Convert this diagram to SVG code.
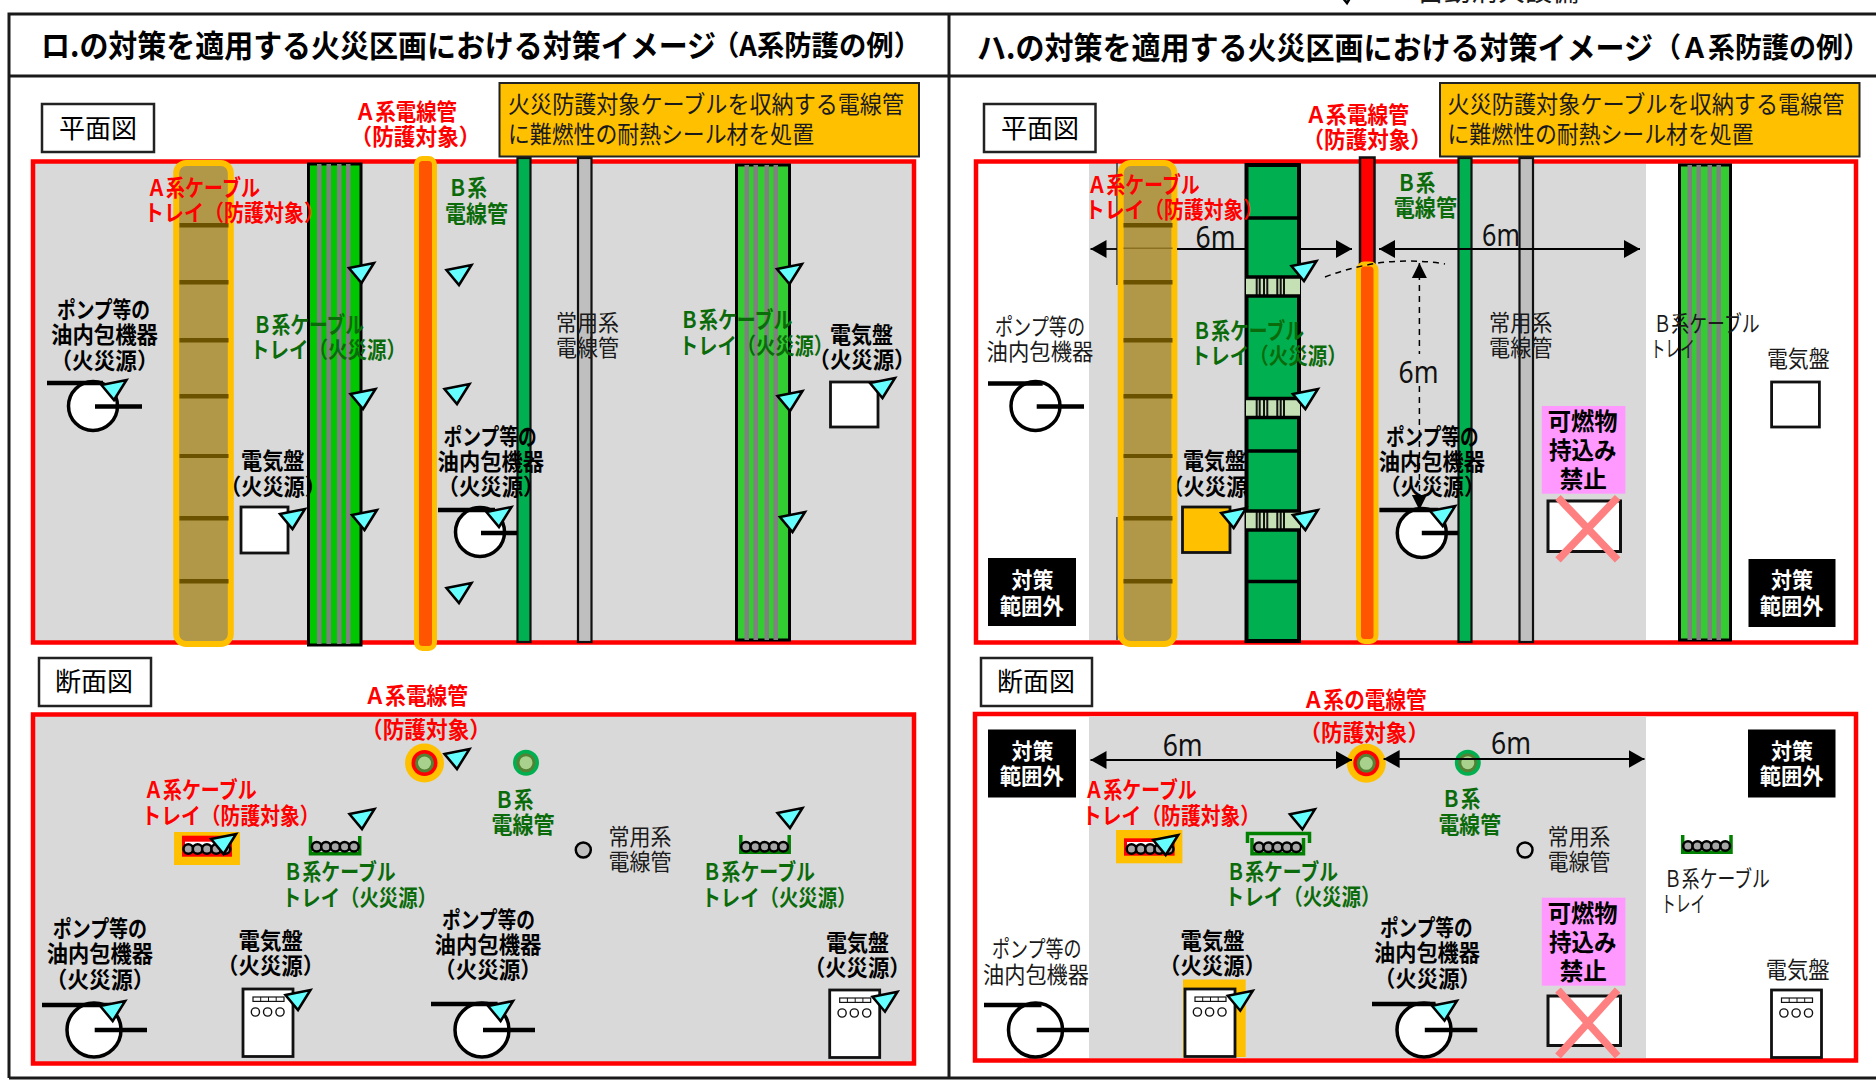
<svg xmlns="http://www.w3.org/2000/svg" width="1876" height="1082" viewBox="0 0 1876 1082">
<style>
text{font-family:"Noto Sans CJK JP","Noto Sans",sans-serif;font-size:22.5px;fill:#1a1a1a}
.b{font-weight:700}
.h{font-size:31px;font-weight:700;fill:#000}
.hp{font-size:28px;font-weight:700;fill:#000}
.red{fill:#ff0000;font-weight:700}
.grn{fill:#0b6b0b;font-weight:700}
.k{fill:#000;font-weight:700}
.w{fill:#fff;font-weight:700;font-size:22px}
.n{font-size:23.5px;fill:#1a1a1a}
.lab{font-size:26px;fill:#000;text-anchor:middle}
.dim{font-family:"Noto Sans",sans-serif;font-size:31px;fill:#111}
.mg{font-size:24px;font-weight:700;fill:#000}
.frame{stroke:#1a1a1a;stroke-width:3;fill:none}
.lbox{fill:#fff;stroke:#222;stroke-width:2.5}
.zone{fill:#d9d9d9;stroke:#ff0000;stroke-width:4.5}
.zonew{fill:#fff;stroke:#ff0000;stroke-width:4.5}
.grey{fill:#d9d9d9}
.note{fill:#ffc000;stroke:#222;stroke-width:2}
.atray{fill:#b19849;stroke:#ffc000;stroke-width:6}
.bar{fill:#6b5200}
.gstripe{fill:#808080}
.btray{fill:#00c800;stroke:#000;stroke-width:3}
.btray2{fill:#33cc33;stroke:#000;stroke-width:3}
.btray3{fill:#00b050;stroke:#000;stroke-width:4}
.sep{stroke:#000;stroke-width:3.5}
.acond{fill:#ff5500;stroke:#ffc000;stroke-width:5}
.bcond{fill:#00b050;stroke:#111;stroke-width:2.2}
.ncond{fill:#bfbfbf;stroke:#111;stroke-width:2.2}
.tri{fill:#66ffff;stroke:#000;stroke-width:2.5}
.circ{fill:#fff;stroke:#000;stroke-width:3.5}
.pl{stroke:#000;stroke-width:4.5;fill:none}
.pan{fill:#fff;stroke:#111;stroke-width:2.8}
.cab{fill:#a6a6a6;stroke:#000;stroke-width:2.5}
.ug{fill:none;stroke:#008000;stroke-width:3.5}
.dl{stroke:#000;stroke-width:1.8;fill:none}
.dash{stroke:#000;stroke-width:1.5;fill:none;stroke-dasharray:6 5}
.x{stroke:#ff8080;stroke-width:7.5}
</style>
<defs>
<marker id="ah" markerUnits="userSpaceOnUse" markerWidth="17" markerHeight="18" refX="16" refY="9" orient="auto-start-reverse"><path d="M0 0L16 9L0 18z" fill="#000"/></marker>
<marker id="ahs" markerUnits="userSpaceOnUse" markerWidth="16" markerHeight="16" refX="15" refY="8" orient="auto-start-reverse"><path d="M0 0.5L15 8L0 15.5z" fill="#000"/></marker>
<polygon id="t" class="tri" points="-12.5,-15 12.5,-20 0,0"/>
<g id="cables"><circle class="cab" cx="0" cy="0" r="4.8"/><circle class="cab" cx="9.3" cy="0" r="4.8"/><circle class="cab" cx="18.6" cy="0" r="4.8"/><circle class="cab" cx="27.9" cy="0" r="4.8"/><circle class="cab" cx="37.2" cy="0" r="4.8"/></g>
<g id="cabinet"><rect class="pan" x="0" y="0" width="50" height="67.5"/><rect x="10" y="8" width="31" height="4.4" fill="#fff" stroke="#111" stroke-width="1.2"/><path d="M17.7 8v4.4M25.5 8v4.4M33.2 8v4.4" stroke="#111" stroke-width="1"/><circle cx="12.4" cy="23" r="4.1" fill="#fff" stroke="#111" stroke-width="1.4"/><circle cx="24.6" cy="23" r="4.1" fill="#fff" stroke="#111" stroke-width="1.4"/><circle cx="37" cy="23" r="4.1" fill="#fff" stroke="#111" stroke-width="1.4"/></g>
<g id="bars"><rect class="bar" x="0" y="223" width="49" height="4.5"/><rect class="bar" x="0" y="280" width="49" height="4.5"/><rect class="bar" x="0" y="338" width="49" height="4.5"/><rect class="bar" x="0" y="394" width="49" height="4.5"/><rect class="bar" x="0" y="454" width="49" height="4"/><rect class="bar" x="0" y="516" width="49" height="4.5"/><rect class="bar" x="0" y="579" width="49" height="4.5"/></g>
<g id="band"><rect x="1" y="0" width="54" height="19" fill="#c5e0b4"/><path d="M11.7 0v19M14.7 0v19M19 0v19M22.3 0v19M32.3 0v19M35.7 0v19M39 0v19" stroke="#111" stroke-width="2"/><path d="M0 0H56M0 19H56" stroke="#000" stroke-width="3.5"/></g>
</defs>
<rect width="1876" height="1082" fill="#fff"/>

<g id="frame">
<path class="frame" d="M9 1078V14H1876M9 76H1876M949 14V1078M9 1078H1876"/>
</g>

<g id="top-legend">
<use href="#t" x="1347" y="3"/>
<text x="1390" y="1" style="font-size:27px" textLength="189" lengthAdjust="spacingAndGlyphs">：自動消火設備</text>
</g>

<g id="titles">
<text class="h" x="41" y="57" textLength="675" lengthAdjust="spacingAndGlyphs">ロ.の対策を適用する火災区画における対策イメージ</text>
<text class="hp" x="712" y="56" textLength="209" lengthAdjust="spacingAndGlyphs">（A系防護の例）</text>
<text class="h" x="977" y="59" textLength="676" lengthAdjust="spacingAndGlyphs">ハ.の対策を適用する火災区画における対策イメージ</text>
<text class="hp" x="1654" y="58" textLength="216" lengthAdjust="spacingAndGlyphs">（Ａ系防護の例）</text>
</g>

<!-- LEFT PLAN -->
<g id="left-plan">
<rect class="zone" x="33" y="161.5" width="881" height="481"/>
<rect class="btray" x="308.5" y="164" width="52.5" height="481"/>
<rect class="gstripe" x="317" y="164" width="4.5" height="480"/><rect class="gstripe" x="326.5" y="164" width="4.5" height="480"/><rect class="gstripe" x="337" y="164" width="4.5" height="480"/><rect class="gstripe" x="346" y="164" width="4.5" height="480"/>
<rect class="atray" x="176.2" y="163" width="54.6" height="481" rx="10"/>
<use href="#bars" x="179.5" y="0"/>
<rect class="acond" x="416.5" y="158.5" width="18" height="490" rx="6"/>
<rect class="bcond" x="517.5" y="158" width="13" height="484"/>
<rect class="ncond" x="578" y="158" width="13.5" height="484"/>
<rect class="btray2" x="736.5" y="165" width="53" height="475"/>
<rect class="gstripe" x="744.5" y="165" width="4.5" height="475"/><rect class="gstripe" x="753.5" y="165" width="4.5" height="475"/><rect class="gstripe" x="764.5" y="165" width="4.5" height="475"/><rect class="gstripe" x="773.5" y="165" width="4.5" height="475"/>
<rect class="note" x="499.5" y="83" width="419.5" height="73.5"/>
<rect class="lbox" x="42" y="104" width="112" height="48"/>
<circle class="circ" cx="93" cy="406" r="24.5"/><path class="pl" d="M47 383H103M95 406.5H142"/>
<circle class="circ" cx="480" cy="532" r="24.5"/><path class="pl" d="M438 510H495M481 533H517"/>
<rect class="pan" x="241" y="507" width="47" height="46"/>
<rect class="pan" x="830.5" y="382" width="47.5" height="45"/>
<use href="#t" x="361.5" y="283"/><use href="#t" x="459" y="285"/><use href="#t" x="363" y="409"/><use href="#t" x="457" y="404"/><use href="#t" x="364.5" y="530"/><use href="#t" x="459" y="603"/><use href="#t" x="789.5" y="284"/><use href="#t" x="790" y="411"/><use href="#t" x="792.5" y="532"/><use href="#t" x="882.5" y="398"/><use href="#t" x="292.5" y="529"/><use href="#t" x="114" y="400"/><use href="#t" x="499" y="527"/>
<text class="lab" x="98" y="138">平面図</text>
<text class="n" x="508" y="113" textLength="396" lengthAdjust="spacingAndGlyphs">火災防護対象ケーブルを収納する電線管</text>
<text class="n" x="508" y="142.7" textLength="306" lengthAdjust="spacingAndGlyphs">に難燃性の耐熱シール材を処置</text>
<text class="red" x="355" y="119.5" textLength="102" lengthAdjust="spacingAndGlyphs">Ａ系電線管</text>
<text class="red" x="350.5" y="145" textLength="130" lengthAdjust="spacingAndGlyphs">（防護対象）</text>
<text class="red" x="147" y="195.5" textLength="113" lengthAdjust="spacingAndGlyphs">Ａ系ケーブル</text>
<text class="red" x="144" y="221" textLength="180" lengthAdjust="spacingAndGlyphs">トレイ（防護対象）</text>
<text class="grn" x="448" y="195.5" textLength="39" lengthAdjust="spacingAndGlyphs">Ｂ系</text>
<text class="grn" x="445" y="221.5" textLength="63" lengthAdjust="spacingAndGlyphs">電線管</text>
<text class="grn" x="253" y="332.5" textLength="111" lengthAdjust="spacingAndGlyphs">Ｂ系ケーブル</text>
<text class="grn" x="250" y="357.5" textLength="156" lengthAdjust="spacingAndGlyphs">トレイ（火災源）</text>
<text x="556" y="330.5" textLength="63" lengthAdjust="spacingAndGlyphs">常用系</text>
<text x="556" y="356" textLength="63" lengthAdjust="spacingAndGlyphs">電線管</text>
<text class="grn" x="680" y="328" textLength="112.5" lengthAdjust="spacingAndGlyphs">Ｂ系ケーブル</text>
<text class="grn" x="679" y="353.5" textLength="154" lengthAdjust="spacingAndGlyphs">トレイ（火災源）</text>
<text class="k" x="830" y="342.5" textLength="63" lengthAdjust="spacingAndGlyphs">電気盤</text>
<text class="k" x="808.5" y="368" textLength="107" lengthAdjust="spacingAndGlyphs">（火災源）</text>
<text class="k" x="241" y="469" textLength="63.5" lengthAdjust="spacingAndGlyphs">電気盤</text>
<text class="k" x="220" y="494.5" textLength="106" lengthAdjust="spacingAndGlyphs">（火災源）</text>
<text class="k" x="443.6" y="444.5" textLength="93" lengthAdjust="spacingAndGlyphs">ポンプ等の</text>
<text class="k" x="437.6" y="469.5" textLength="106.5" lengthAdjust="spacingAndGlyphs">油内包機器</text>
<text class="k" x="437.5" y="494.5" textLength="107" lengthAdjust="spacingAndGlyphs">（火災源）</text>
<text class="k" x="57" y="317.5" textLength="93" lengthAdjust="spacingAndGlyphs">ポンプ等の</text>
<text class="k" x="51" y="343" textLength="107" lengthAdjust="spacingAndGlyphs">油内包機器</text>
<text class="k" x="50.5" y="368.5" textLength="108" lengthAdjust="spacingAndGlyphs">（火災源）</text>
</g>

<!-- LEFT SECTION -->
<g id="left-section">
<rect class="zone" x="33" y="714.5" width="881" height="349"/>
<rect class="lbox" x="39" y="658" width="112" height="48"/>
<text class="lab" x="94" y="691">断面図</text>
<circle cx="424.5" cy="763" r="19.5" fill="#ffc000"/><circle cx="424.5" cy="763" r="13" fill="#ff0000"/><circle cx="424.5" cy="763" r="9.5" fill="#548235"/><circle cx="424.5" cy="763" r="6.5" fill="#a9d18e"/>
<circle cx="526" cy="762.7" r="13" fill="#00b050"/><circle cx="526" cy="762.7" r="9.5" fill="#548235"/><circle cx="526" cy="762.7" r="6.5" fill="#a9d18e"/>
<rect x="174" y="832" width="66" height="33" fill="#ffc000"/><rect x="182" y="835.7" width="50" height="21" fill="#ff0000"/><rect x="185" y="841.7" width="44" height="3.5" fill="#fff"/>
<use href="#cables" x="188.3" y="849"/>
<path class="ug" d="M310.5 836V853.7H359.7V836"/><use href="#cables" x="316.7" y="846.7"/>
<path class="ug" d="M740.8 835V852.2H789.2V835"/><use href="#cables" x="746" y="846.7"/>
<circle cx="583.3" cy="850" r="7.5" fill="#bfbfbf" stroke="#000" stroke-width="2.5"/>
<circle class="circ" cx="94" cy="1030" r="27"/><path class="pl" d="M42 1005H111M94.7 1030H147"/>
<circle class="circ" cx="482" cy="1030" r="27"/><path class="pl" d="M431 1004H497.6M483 1030H535"/>
<use href="#cabinet" x="243" y="989"/><use href="#cabinet" x="829.7" y="990"/>
<use href="#t" x="457" y="769"/><use href="#t" x="362" y="829"/><use href="#t" x="790" y="828"/><use href="#t" x="223.6" y="854"/><use href="#t" x="112.7" y="1021"/><use href="#t" x="298" y="1010"/><use href="#t" x="500.6" y="1021"/><use href="#t" x="885" y="1011.7"/>
<text class="red" x="364.5" y="704.2" textLength="103.5" lengthAdjust="spacingAndGlyphs">Ａ系電線管</text>
<text class="red" x="361" y="738.2" textLength="130" lengthAdjust="spacingAndGlyphs">（防護対象）</text>
<text class="red" x="144" y="798.2" textLength="112.6" lengthAdjust="spacingAndGlyphs">Ａ系ケーブル</text>
<text class="red" x="141.5" y="823.5" textLength="178" lengthAdjust="spacingAndGlyphs">トレイ（防護対象）</text>
<text class="grn" x="283.6" y="880.2" textLength="112" lengthAdjust="spacingAndGlyphs">Ｂ系ケーブル</text>
<text class="grn" x="282" y="905.5" textLength="155" lengthAdjust="spacingAndGlyphs">トレイ（火災源）</text>
<text class="grn" x="494.6" y="807.5" textLength="39" lengthAdjust="spacingAndGlyphs">Ｂ系</text>
<text class="grn" x="491.6" y="832.5" textLength="63" lengthAdjust="spacingAndGlyphs">電線管</text>
<text x="608.5" y="844.5" textLength="63" lengthAdjust="spacingAndGlyphs">常用系</text>
<text x="608.5" y="870.2" textLength="63" lengthAdjust="spacingAndGlyphs">電線管</text>
<text class="grn" x="702.6" y="880.2" textLength="112.4" lengthAdjust="spacingAndGlyphs">Ｂ系ケーブル</text>
<text class="grn" x="701.4" y="905.5" textLength="155" lengthAdjust="spacingAndGlyphs">トレイ（火災源）</text>
<text class="k" x="52.8" y="936.5" textLength="94.2" lengthAdjust="spacingAndGlyphs">ポンプ等の</text>
<text class="k" x="46.8" y="961.5" textLength="106.2" lengthAdjust="spacingAndGlyphs">油内包機器</text>
<text class="k" x="45.5" y="987.5" textLength="109" lengthAdjust="spacingAndGlyphs">（火災源）</text>
<text class="k" x="238.6" y="949.2" textLength="64.2" lengthAdjust="spacingAndGlyphs">電気盤</text>
<text class="k" x="217.1" y="974.2" textLength="107" lengthAdjust="spacingAndGlyphs">（火災源）</text>
<text class="k" x="442" y="927.5" textLength="93" lengthAdjust="spacingAndGlyphs">ポンプ等の</text>
<text class="k" x="434.6" y="952.5" textLength="106.8" lengthAdjust="spacingAndGlyphs">油内包機器</text>
<text class="k" x="434.1" y="978.2" textLength="107.8" lengthAdjust="spacingAndGlyphs">（火災源）</text>
<text class="k" x="826" y="950.5" textLength="63" lengthAdjust="spacingAndGlyphs">電気盤</text>
<text class="k" x="804" y="975.5" textLength="106.5" lengthAdjust="spacingAndGlyphs">（火災源）</text>
</g>

<!-- RIGHT PLAN -->
<g id="right-plan">
<rect class="zonew" x="976" y="161.5" width="880" height="481"/>
<rect class="grey" x="1089" y="164" width="557" height="476"/>
<text class="k" x="1183" y="469" textLength="63" lengthAdjust="spacingAndGlyphs">電気盤</text>
<text class="k" x="1162" y="494.5" textLength="107" lengthAdjust="spacingAndGlyphs">（火災源）</text>
<path d="M1117 163V285M1117 517V640" stroke="#333" stroke-width="1.5"/>
<rect class="atray" x="1120.7" y="163" width="53.7" height="481" rx="10"/>
<use href="#bars" x="1123.5" y="0"/>
<rect x="1123.5" y="247.5" width="49" height="1.5" fill="#8a7020"/>
<rect class="btray3" x="1246.5" y="165" width="52.5" height="476"/>
<path class="sep" d="M1245 218H1300M1245 451H1300M1245 581.5H1300"/>
<use href="#band" x="1245" y="277"/><use href="#band" x="1245" y="398.5"/><use href="#band" x="1245" y="511"/>
<rect x="1360" y="157.5" width="14.5" height="108" fill="#ff0000" stroke="#111" stroke-width="2.5"/>
<rect class="acond" x="1358.5" y="264" width="17.5" height="377.5" rx="6"/>
<rect class="bcond" x="1458.5" y="158" width="13" height="484"/>
<rect class="ncond" x="1519.5" y="158" width="13.5" height="484"/>
<rect class="btray2" x="1679.5" y="165" width="51" height="475"/>
<rect class="gstripe" x="1687.5" y="165" width="4.5" height="475"/><rect class="gstripe" x="1696.5" y="165" width="4.5" height="475"/><rect class="gstripe" x="1707.5" y="165" width="4.5" height="475"/><rect class="gstripe" x="1716.5" y="165" width="4.5" height="475"/>
<rect class="note" x="1440" y="83" width="419.5" height="73.5"/>
<rect class="lbox" x="984" y="104" width="111.5" height="48"/>
<text class="lab" x="1040" y="138">平面図</text>
<circle class="circ" cx="1035.5" cy="406" r="24.5"/><path class="pl" d="M988 383.4H1042.7M1036.7 406.5H1084"/>
<circle class="circ" cx="1421.8" cy="533" r="24.5"/><path class="pl" d="M1379.4 510H1438.5M1421.8 533H1458"/>
<rect x="1182.5" y="507" width="47.5" height="45.5" fill="#ffc000" stroke="#111" stroke-width="2.8"/>
<rect class="pan" x="1771.6" y="382" width="47.8" height="45"/>
<rect x="1541.8" y="406" width="83.6" height="87.7" fill="#ff99ff"/>
<rect class="pan" x="1548" y="501" width="72.5" height="50.5" style="stroke-width:3"/>
<path class="x" d="M1558 497.5L1617.6 559.8M1617.6 497.5L1558 559.8"/>
<rect x="988" y="558" width="88" height="68" fill="#000"/>
<rect x="1748.5" y="559" width="87" height="68" fill="#000"/>
<use href="#t" x="1304" y="281"/><use href="#t" x="1305.4" y="409"/><use href="#t" x="1233.7" y="528"/><use href="#t" x="1305.4" y="530"/><use href="#t" x="1442.7" y="526"/>
</g>

<!-- RIGHT SECTION -->
<g id="right-section">
<rect class="zonew" x="975" y="714" width="881" height="346.5"/>
<rect class="grey" x="1089" y="716.5" width="557" height="341.5"/>
<rect class="lbox" x="981" y="658" width="111" height="48"/>
<text class="lab" x="1036" y="691">断面図</text>
<rect x="988" y="729.5" width="88" height="68" fill="#000"/>
<rect x="1748" y="729.5" width="87.5" height="68" fill="#000"/>
<circle cx="1366.3" cy="763.3" r="19.5" fill="#ffc000"/><circle cx="1366.3" cy="763.3" r="13" fill="#ff0000"/><circle cx="1366.3" cy="763.3" r="9.5" fill="#548235"/><circle cx="1366.3" cy="763.3" r="6.5" fill="#a9d18e"/>
<circle cx="1467.8" cy="762.7" r="13" fill="#00b050"/><circle cx="1467.8" cy="762.7" r="9.5" fill="#548235"/><circle cx="1467.8" cy="762.7" r="6.5" fill="#a9d18e"/>
<rect x="1116" y="830" width="66.4" height="33.3" fill="#ffc000"/><rect x="1124" y="838.3" width="50.6" height="17.4" fill="#ff0000"/><rect x="1127" y="842" width="44" height="3.5" fill="#fff"/>
<use href="#cables" x="1131.5" y="849"/>
<path class="ug" d="M1247.5 843V833.5H1309.5V843"/><path class="ug" d="M1252 838V853.7H1303.5V838"/><use href="#cables" x="1259" y="847.3"/>
<path class="ug" d="M1682.7 835V852.2H1731V835"/><use href="#cables" x="1688" y="846"/>
<circle cx="1525" cy="850" r="7.5" fill="#d9d9d9" stroke="#000" stroke-width="2.5"/>
<rect x="1541.8" y="897.7" width="83.6" height="88" fill="#ff99ff"/>
<rect class="pan" x="1548" y="996" width="72.5" height="49.5" style="stroke-width:3"/>
<path class="x" d="M1558 990L1617.6 1056M1617.6 990L1558 1056"/>
<circle class="circ" cx="1035.5" cy="1030" r="27"/><path class="pl" d="M984 1005H1041.5M1036.7 1030H1089"/>
<circle class="circ" cx="1424" cy="1030" r="27"/><path class="pl" d="M1372 1004H1435.5M1424.8 1030H1477.3"/>
<rect x="1183" y="979.5" width="62.7" height="77.5" fill="#ffc000"/>
<use href="#cabinet" x="1185" y="989"/><use href="#cabinet" x="1771.5" y="990"/>
<use href="#t" x="1165.7" y="855"/><use href="#t" x="1302.4" y="829.3"/><use href="#t" x="1240.3" y="1010.7"/><use href="#t" x="1444.5" y="1020.7"/>
</g>

<g id="connectors">
<path class="dl" marker-start="url(#ah)" d="M1090.5 249H1117"/>
<path class="dl" d="M1177 249H1245"/>
<path class="dl" marker-end="url(#ah)" d="M1300 249H1352"/>
<path class="dl" marker-start="url(#ah)" marker-end="url(#ah)" d="M1379 249H1640"/>
<path class="dash" d="M1325 277Q1385 254 1445 264"/>
<path class="dash" marker-start="url(#ahs)" d="M1419.4 263V354"/>
<path class="dash" marker-end="url(#ahs)" d="M1419.4 386V510"/>
<path class="dl" marker-start="url(#ah)" marker-end="url(#ah)" d="M1090.5 760H1352"/>
<path class="dl" marker-start="url(#ah)" marker-end="url(#ah)" d="M1383.6 759H1644.5"/>
</g>

<g id="right-labels">
<text class="n" x="1447.5" y="113" textLength="397" lengthAdjust="spacingAndGlyphs">火災防護対象ケーブルを収納する電線管</text>
<text class="n" x="1447.5" y="142.7" textLength="306" lengthAdjust="spacingAndGlyphs">に難燃性の耐熱シール材を処置</text>
<text class="red" x="1305.4" y="122.5" textLength="103.6" lengthAdjust="spacingAndGlyphs">Ａ系電線管</text>
<text class="red" x="1302.5" y="147.5" textLength="129.4" lengthAdjust="spacingAndGlyphs">（防護対象）</text>
<text class="red" x="1087.5" y="192.5" textLength="112.2" lengthAdjust="spacingAndGlyphs">Ａ系ケーブル</text>
<text class="red" x="1085" y="218" textLength="178" lengthAdjust="spacingAndGlyphs">トレイ（防護対象）</text>
<text class="grn" x="1396.7" y="190.5" textLength="38.8" lengthAdjust="spacingAndGlyphs">Ｂ系</text>
<text class="grn" x="1393.7" y="215.5" textLength="63.3" lengthAdjust="spacingAndGlyphs">電線管</text>
<text class="dim" x="1195.5" y="248" textLength="40" lengthAdjust="spacingAndGlyphs">6m</text>
<text class="dim" x="1482" y="245.5" textLength="38" lengthAdjust="spacingAndGlyphs">6m</text>
<text class="dim" x="1398.5" y="383" textLength="40" lengthAdjust="spacingAndGlyphs">6m</text>
<text class="grn" x="1192.5" y="338.5" textLength="111.5" lengthAdjust="spacingAndGlyphs">Ｂ系ケーブル</text>
<text class="grn" x="1190.7" y="364" textLength="156" lengthAdjust="spacingAndGlyphs">トレイ（火災源）</text>
<text x="995" y="335" textLength="90" lengthAdjust="spacingAndGlyphs">ポンプ等の</text>
<text x="986.6" y="360.2" textLength="106.8" lengthAdjust="spacingAndGlyphs">油内包機器</text>
<text x="1489" y="330.5" textLength="63.5" lengthAdjust="spacingAndGlyphs">常用系</text>
<text x="1489" y="356" textLength="63.5" lengthAdjust="spacingAndGlyphs">電線管</text>
<text x="1653.4" y="331.5" textLength="106.3" lengthAdjust="spacingAndGlyphs">Ｂ系ケーブル</text>
<text x="1650.4" y="356.8" textLength="44.6" lengthAdjust="spacingAndGlyphs">トレイ</text>
<text x="1766.9" y="366.5" textLength="62.7" lengthAdjust="spacingAndGlyphs">電気盤</text>
<text class="k" x="1386" y="444.5" textLength="92.5" lengthAdjust="spacingAndGlyphs">ポンプ等の</text>
<text class="k" x="1378.8" y="469.5" textLength="106.2" lengthAdjust="spacingAndGlyphs">油内包機器</text>
<text class="k" x="1379.5" y="494.5" textLength="105.5" lengthAdjust="spacingAndGlyphs">（火災源）</text>
<text class="mg" x="1547.8" y="430.3" textLength="69.8" lengthAdjust="spacingAndGlyphs">可燃物</text>
<text class="mg" x="1549" y="459.3" textLength="67.4" lengthAdjust="spacingAndGlyphs">持込み</text>
<text class="mg" x="1559.7" y="488" textLength="47.2" lengthAdjust="spacingAndGlyphs">禁止</text>
<text class="w" x="1011.6" y="587.5" textLength="41.8" lengthAdjust="spacingAndGlyphs">対策</text>
<text class="w" x="999.7" y="613.5" textLength="64.3" lengthAdjust="spacingAndGlyphs">範囲外</text>
<text class="w" x="1771" y="587.5" textLength="42" lengthAdjust="spacingAndGlyphs">対策</text>
<text class="w" x="1759.7" y="613.5" textLength="63.9" lengthAdjust="spacingAndGlyphs">範囲外</text>
<text class="w" x="1011.6" y="759.2" textLength="41.8" lengthAdjust="spacingAndGlyphs">対策</text>
<text class="w" x="999.7" y="784.2" textLength="64.3" lengthAdjust="spacingAndGlyphs">範囲外</text>
<text class="w" x="1771" y="759.2" textLength="42" lengthAdjust="spacingAndGlyphs">対策</text>
<text class="w" x="1759.7" y="784.2" textLength="63.9" lengthAdjust="spacingAndGlyphs">範囲外</text>
<text class="red" x="1303" y="707.5" textLength="123.6" lengthAdjust="spacingAndGlyphs">Ａ系の電線管</text>
<text class="red" x="1299.5" y="740.8" textLength="129.5" lengthAdjust="spacingAndGlyphs">（防護対象）</text>
<text class="dim" x="1162.7" y="755.5" textLength="40" lengthAdjust="spacingAndGlyphs">6m</text>
<text class="dim" x="1491" y="753.8" textLength="40" lengthAdjust="spacingAndGlyphs">6m</text>
<text class="red" x="1084.5" y="798.2" textLength="112.2" lengthAdjust="spacingAndGlyphs">Ａ系ケーブル</text>
<text class="red" x="1082" y="823.5" textLength="178" lengthAdjust="spacingAndGlyphs">トレイ（防護対象）</text>
<text class="grn" x="1226.6" y="879.8" textLength="111.4" lengthAdjust="spacingAndGlyphs">Ｂ系ケーブル</text>
<text class="grn" x="1224.8" y="904.8" textLength="155.7" lengthAdjust="spacingAndGlyphs">トレイ（火災源）</text>
<text class="grn" x="1441.5" y="806.8" textLength="38.8" lengthAdjust="spacingAndGlyphs">Ｂ系</text>
<text class="grn" x="1438.5" y="832.5" textLength="62.5" lengthAdjust="spacingAndGlyphs">電線管</text>
<text x="1547.8" y="844.8" textLength="62.6" lengthAdjust="spacingAndGlyphs">常用系</text>
<text x="1547.8" y="870.2" textLength="62.6" lengthAdjust="spacingAndGlyphs">電線管</text>
<text x="1664" y="886.5" textLength="105.9" lengthAdjust="spacingAndGlyphs">Ｂ系ケーブル</text>
<text x="1661" y="911.5" textLength="44.4" lengthAdjust="spacingAndGlyphs">トレイ</text>
<text class="mg" x="1547.8" y="921.5" textLength="69.8" lengthAdjust="spacingAndGlyphs">可燃物</text>
<text class="mg" x="1549" y="950.8" textLength="67.4" lengthAdjust="spacingAndGlyphs">持込み</text>
<text class="mg" x="1559.7" y="979.8" textLength="47.2" lengthAdjust="spacingAndGlyphs">禁止</text>
<text x="992" y="956.5" textLength="89.5" lengthAdjust="spacingAndGlyphs">ポンプ等の</text>
<text x="983" y="982.5" textLength="106" lengthAdjust="spacingAndGlyphs">油内包機器</text>
<text class="k" x="1180.6" y="949.2" textLength="63.9" lengthAdjust="spacingAndGlyphs">電気盤</text>
<text class="k" x="1159.1" y="974.2" textLength="106.8" lengthAdjust="spacingAndGlyphs">（火災源）</text>
<text class="k" x="1380" y="935.8" textLength="92.5" lengthAdjust="spacingAndGlyphs">ポンプ等の</text>
<text class="k" x="1374" y="960.8" textLength="106" lengthAdjust="spacingAndGlyphs">油内包機器</text>
<text class="k" x="1374.1" y="986.5" textLength="106.8" lengthAdjust="spacingAndGlyphs">（火災源）</text>
<text x="1765.7" y="978.2" textLength="63.9" lengthAdjust="spacingAndGlyphs">電気盤</text>
</g>
</svg>
